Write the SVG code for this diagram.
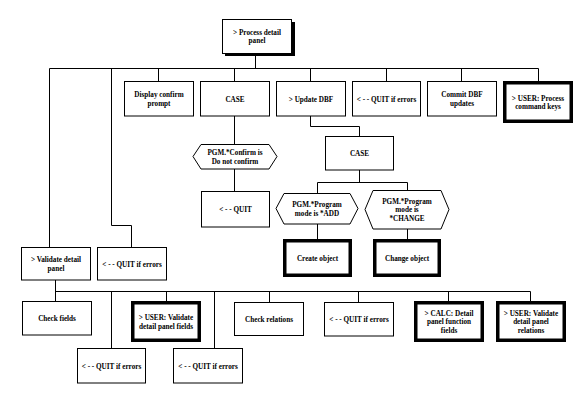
<svg xmlns="http://www.w3.org/2000/svg" width="580" height="415" viewBox="0 0 580 415" font-family="'Liberation Serif', 'Times New Roman', serif" font-size="7.2" font-weight="bold">
<style>
.b{fill:#fff;stroke:#000;stroke-width:1}
.t{fill:#fff;stroke:#000;stroke-width:3.5}
.c{fill:none;stroke:#000;stroke-width:1}
text{text-anchor:middle;fill:#000}
</style>
<rect width="580" height="415" fill="#fff"/>
<g id="connectors" class="c">
<path d="M255.5 53V68.5M49.5 68.5H538.5"/>
<path d="M49.5 68.5V247"/>
<path d="M111.5 68.5V225.5H131.5V247"/>
<path d="M158.5 68.5V81M234.5 68.5V81M310.5 68.5V81M386.5 68.5V81M461.5 68.5V81M538.5 68.5V81"/>
<path d="M234.5 116V144M234.5 169V191"/>
<path d="M310.5 116V126.5H359.5V136"/>
<path d="M359.5 170V182.5M317.5 182.5H407.5M317.5 182.5V193M407.5 182.5V190"/>
<path d="M317.5 224V239M407.5 229V239"/>
<path d="M55.5 280V301M55.5 291.5H530.5"/>
<path d="M111.5 291.5V348M166.5 291.5V301M214.5 291.5V348M269.5 291.5V302M358.5 291.5V302M448.5 291.5V301M530.5 291.5V301"/>
</g>
<g id="n_process">
<rect x="225" y="22" width="70" height="34" fill="#000"/>
<rect class="b" x="222.5" y="19.5" width="69" height="34"/>
<text x="257" y="34.5">&gt; Process detail</text><text x="257" y="43">panel</text>
</g>
<g id="n_display"><rect class="b" x="124.5" y="81.5" width="69" height="34.5"/><text x="159" y="97">Display confirm</text><text x="159" y="105.5">prompt</text></g>
<g id="n_case1"><rect class="b" x="200.5" y="81.5" width="69" height="34.5"/><text x="235" y="101.5">CASE</text></g>
<g id="n_update"><rect class="b" x="276.5" y="81.5" width="69" height="34.5"/><text x="311" y="101.5">&gt; Update DBF</text></g>
<g id="n_quit1"><rect class="b" x="352.5" y="81.5" width="68" height="34.5"/><text x="386.5" y="101.5">&lt; - - QUIT if errors</text></g>
<g id="n_commit"><rect class="b" x="427.5" y="81.5" width="69" height="34.5"/><text x="462" y="97">Commit DBF</text><text x="462" y="105.5">updates</text></g>
<g id="n_userkeys"><rect class="t" x="504.75" y="82.75" width="66.5" height="38.5"/><text x="538" y="100.5">&gt; USER: Process</text><text x="538" y="109">command keys</text></g>
<g id="n_confirm"><polygon class="b" points="193,156.5 201,144.5 269,144.5 277,156.5 269,169 201,169"/><text x="235" y="155">PGM.*Confirm is</text><text x="235" y="163.5">Do not confirm</text></g>
<g id="n_quit2"><rect class="b" x="201.5" y="191.5" width="68" height="35.5"/><text x="235.5" y="212">&lt; - - QUIT</text></g>
<g id="n_case2"><rect class="b" x="325.5" y="136.5" width="68" height="33.5"/><text x="359.5" y="156">CASE</text></g>
<g id="n_add"><polygon class="b" points="276,208.5 284,193.5 350,193.5 358,208.5 350,224 284,224"/><text x="317" y="207">PGM.*Program</text><text x="317" y="215.5">mode is *ADD</text></g>
<g id="n_change"><polygon class="b" points="365,209.5 373,190.5 441,190.5 449,209.5 441,229 373,229"/><text x="407" y="203.5">PGM.*Program</text><text x="407" y="212">mode is</text><text x="407" y="220.5">*CHANGE</text></g>
<g id="n_create"><rect class="t" x="284.75" y="240.75" width="65.5" height="34.5"/><text x="317.5" y="260.5">Create object</text></g>
<g id="n_changeobj"><rect class="t" x="374.75" y="240.75" width="64.5" height="34.5"/><text x="407" y="260.5">Change object</text></g>
<g id="n_validate"><rect class="b" x="21.5" y="247.5" width="69" height="32.5"/><text x="56" y="262">&gt; Validate detail</text><text x="56" y="270.5">panel</text></g>
<g id="n_quit3"><rect class="b" x="97.5" y="247.5" width="69" height="32.5"/><text x="132" y="266.5">&lt; - - QUIT if errors</text></g>
<g id="n_checkfields"><rect class="b" x="22.5" y="301.5" width="69" height="33.5"/><text x="57" y="321">Check fields</text></g>
<g id="n_userfields"><rect class="t" x="132.75" y="302.75" width="66.5" height="37.5"/><text x="166" y="320">&gt; USER: Validate</text><text x="166" y="328.5">detail panel fields</text></g>
<g id="n_checkrel"><rect class="b" x="234.5" y="302.5" width="69" height="33"/><text x="269" y="321.5">Check relations</text></g>
<g id="n_quit4"><rect class="b" x="324.5" y="302.5" width="69" height="33.5"/><text x="359" y="321.5">&lt; - - QUIT if errors</text></g>
<g id="n_calc"><rect class="t" x="415.75" y="302.75" width="66.5" height="37.5"/><text x="449" y="315.5">&gt; CALC: Detail</text><text x="449" y="324">panel function</text><text x="449" y="332.5">fields</text></g>
<g id="n_userrel"><rect class="t" x="497.75" y="302.75" width="66.5" height="37.5"/><text x="531" y="315.5">&gt; USER: Validate</text><text x="531" y="324">detail panel</text><text x="531" y="332.5">relations</text></g>
<g id="n_quit5"><rect class="b" x="77.5" y="348.5" width="68" height="34.5"/><text x="111.5" y="368.5">&lt; - - QUIT if errors</text></g>
<g id="n_quit6"><rect class="b" x="173.5" y="348.5" width="69" height="34.5"/><text x="208" y="368.5">&lt; - - QUIT if errors</text></g>
</svg>
